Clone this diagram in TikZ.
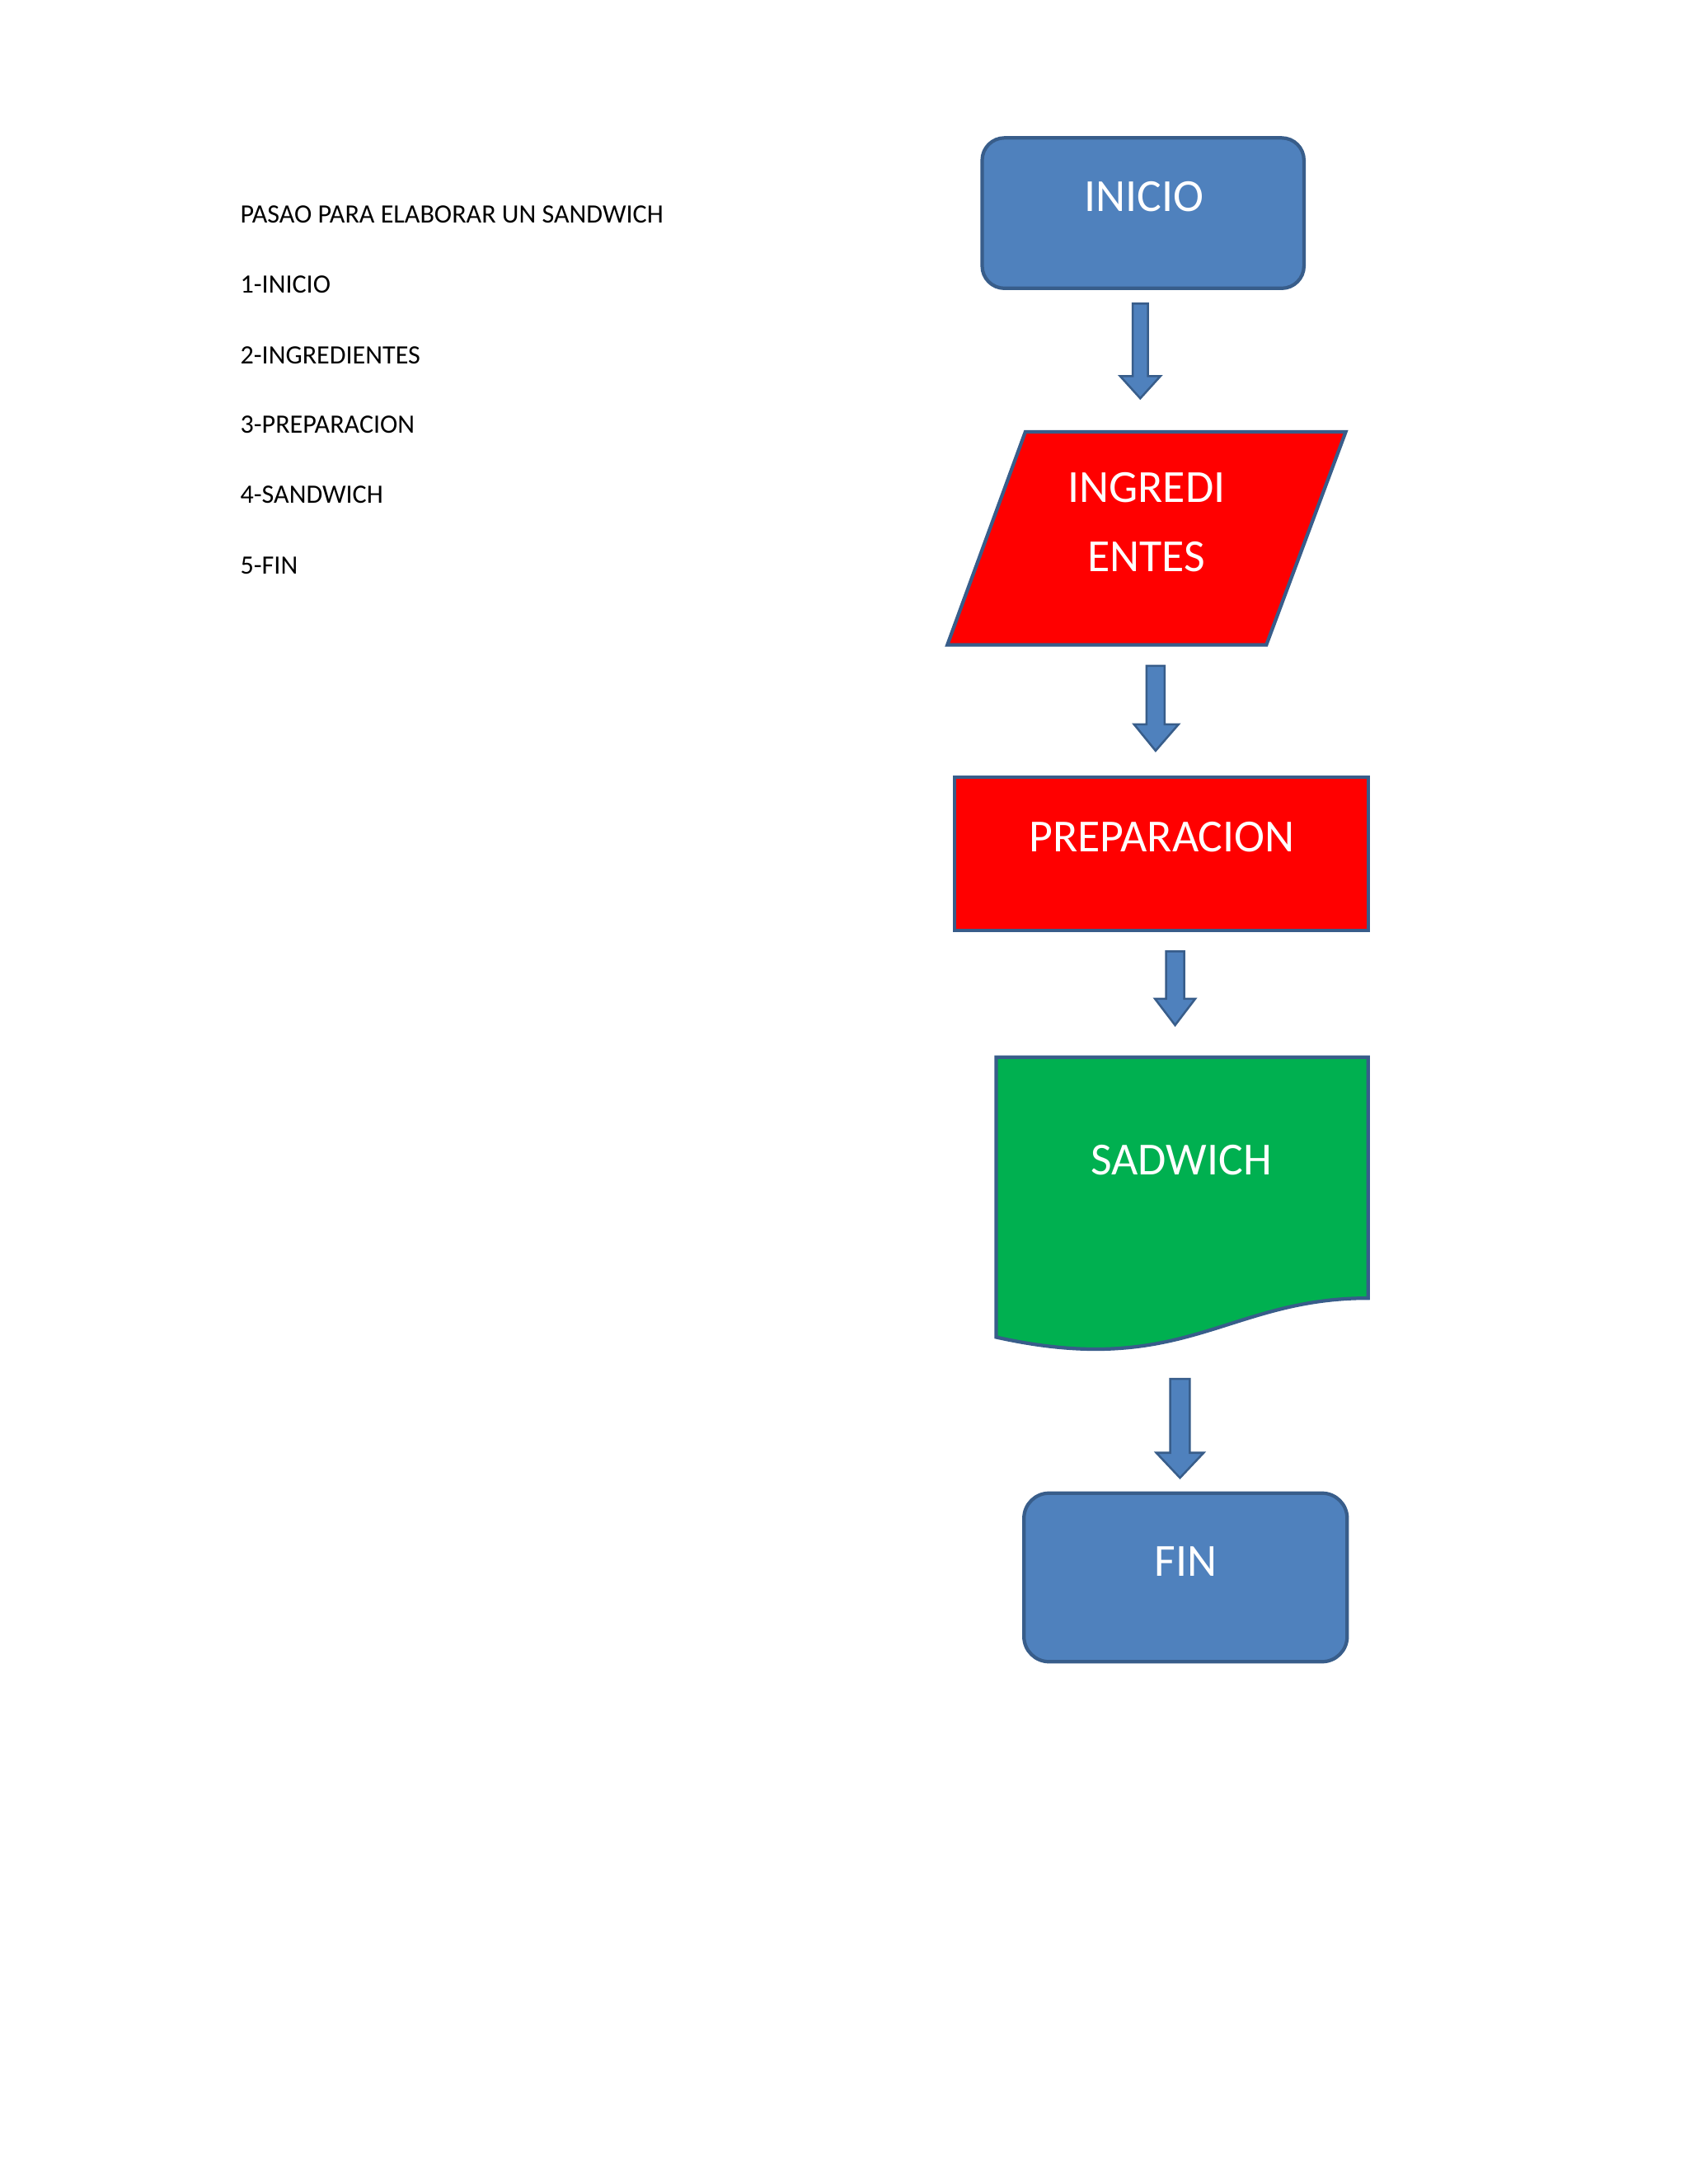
\documentclass[tikz,border=0pt]{standalone}
\usepackage{fontspec}
\setmainfont{Carlito}
\definecolor{bfill}{HTML}{4F81BD}
\definecolor{bline}{HTML}{385D8A}
\definecolor{gfill}{HTML}{00B050}
\begin{document}
\begin{tikzpicture}[x=1pt,y=-1pt,
  shp/.style={draw=bline,line width=2.5pt},
  barrow/.style={fill=bfill,draw=bline,line width=1.5pt,line join=miter},
  big/.style={text=white,font=\fontsize{33}{40}\selectfont},
  lst/.style={anchor=west,font=\fontsize{19}{23}\selectfont}]
\useasboundingbox (0,0) rectangle (1212,1568);
\fill[white] (0,0) rectangle (1212,1568);
\node[lst] (t0) at (169,154) {PASAO PARA ELABORAR UN SANDWICH};
\node[lst] (t1) at (169,204) {1-INICIO};
\node[lst] (t2) at (169,255) {2-INGREDIENTES};
\node[lst] (t3) at (169,305) {3-PREPARACION};
\node[lst] (t4) at (169,355) {4-SANDWICH};
\node[lst] (t5) at (169,406) {5-FIN};
% INICIO
\draw[shp,fill=bfill,rounded corners=16pt] (705,99) rectangle (936,207);
\node[big] (inicio) at (821,141) {INICIO};
% arrow 1
\draw[barrow] (813,218)--(824,218)--(824,270)--(833,270)--(818.5,286)--(804,270)--(813,270)--cycle;
% parallelogram
\draw[shp,fill=red] (736,310)--(966,310)--(909,463)--(680,463)--cycle;
\node[big] (ing1) at (823,350) {INGREDI};
\node[big] (ing2) at (823,400) {ENTES};
% arrow 2
\draw[barrow] (823,478)--(836,478)--(836,520)--(846,520)--(829.5,539)--(814,520)--(823,520)--cycle;
% PREPARACION
\draw[shp,fill=red] (685,558) rectangle (982,668);
\node[big] (prep) at (834,601) {PREPARACION};
% arrow 3
\draw[barrow] (837,683)--(850,683)--(850,717)--(858,717)--(843.5,736)--(829,717)--(837,717)--cycle;
% document
\draw[shp,fill=gfill] (715,759)--(982,759)--(982,932) .. controls (880,932) and (850,990) .. (715,960)--cycle;
\node[big] (sand) at (848,833) {SADWICH};
% arrow 4
\draw[barrow] (840,990)--(854,990)--(854,1043)--(864,1043)--(847,1061)--(830,1043)--(840,1043)--cycle;
% FIN
\draw[shp,fill=bfill,rounded corners=18pt] (735,1072) rectangle (967,1193);
\node[big] (fin) at (851,1121) {FIN};
\end{tikzpicture}
\end{document}
